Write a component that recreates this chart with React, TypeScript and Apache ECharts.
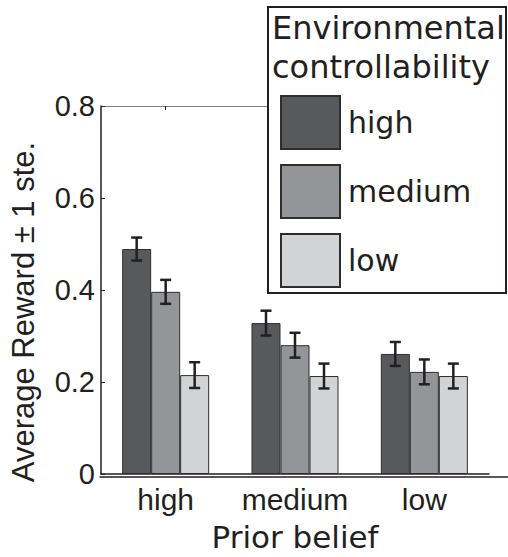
import React, { useEffect, useRef } from "react";
import * as echarts from "echarts";

// Prior belief categories (x axis)
const categories = ["high", "medium", "low"];
// Environmental controllability levels (legend)
const controlLevels = ["high", "medium", "low"];
// Mean reward per controllability level, one value per prior-belief category
const highCtrlMean = [0.489, 0.328, 0.261];
const mediumCtrlMean = [0.396, 0.28, 0.222];
const lowCtrlMean = [0.215, 0.213, 0.213];
// Standard errors
const highCtrlErr = [0.025, 0.027, 0.026];
const mediumCtrlErr = [0.026, 0.027, 0.027];
const lowCtrlErr = [0.028, 0.027, 0.027];
// Y axis
const yMin = 0;
const yMax = 0.8;
const yStep = 0.2;

const legendTitle = "Environmental\ncontrollability";

const COLORS = ["#58595b", "#939598", "#d1d3d4"];
const INK = "#231f20";
const BAR_W = 29;

export default function App() {
  const ref = useRef<HTMLDivElement>(null);

  useEffect(() => {
    if (!ref.current) return;
    const chart = echarts.init(ref.current, undefined, { renderer: "svg" });

    const means = [highCtrlMean, mediumCtrlMean, lowCtrlMean];
    const errs = [highCtrlErr, mediumCtrlErr, lowCtrlErr];

    const barSeries = controlLevels.map((name, s) => ({
      name,
      type: "bar",
      xAxisIndex: 0,
      yAxisIndex: 0,
      barWidth: BAR_W,
      barGap: "0%",
      data: means[s],
      itemStyle: { color: COLORS[s], borderColor: "#2e2e2e", borderWidth: 1 },
      z: 2,
    }));

    const errSeries = controlLevels.map((name, s) => ({
      name: name + " error",
      type: "custom",
      xAxisIndex: 0,
      yAxisIndex: 0,
      z: 5,
      data: categories.map((c, i) => [i, means[s][i], errs[s][i]]),
      encode: { x: 0, y: 1 },
      renderItem: (params: any, api: any) => {
        const xi = api.value(0);
        const m = api.value(1);
        const e = api.value(2);
        const top = api.coord([xi, m + e]);
        const bot = api.coord([xi, m - e]);
        const x = top[0] + (s - 1) * BAR_W;
        const hw = 5.5;
        const style = { stroke: INK, lineWidth: 2.5 };
        return {
          type: "group",
          children: [
            { type: "line", shape: { x1: x, y1: top[1], x2: x, y2: bot[1] }, style },
            { type: "line", shape: { x1: x - hw, y1: top[1], x2: x + hw, y2: top[1] }, style },
            { type: "line", shape: { x1: x - hw, y1: bot[1], x2: x + hw, y2: bot[1] }, style },
          ],
        };
      },
    }));

    chart.setOption({
      animation: false,
      backgroundColor: "#ffffff",
      grid: [
        { left: 100, width: 389, top: 106, bottom: 80 },
        { left: 100, right: 0, top: 106, bottom: 80 },
      ],
      xAxis: [
        {
          type: "category",
          gridIndex: 0,
          data: categories,
          position: "bottom",
          axisLine: { lineStyle: { color: INK, width: 1.5 } },
          axisTick: { show: false },
          axisLabel: {
            interval: 0,
            fontFamily: "Liberation Sans",
            fontSize: 30,
            color: INK,
            margin: 10,
          },
          name: "Prior belief",
          nameLocation: "middle",
          nameGap: 47,
          nameTextStyle: { fontFamily: "DejaVu Sans", fontSize: 31, color: INK },
        },
        {
          type: "category",
          gridIndex: 0,
          data: categories,
          position: "top",
          axisLine: { lineStyle: { color: "#808080", width: 1 } },
          axisTick: { show: true, inside: true, length: 4, alignWithLabel: true, lineStyle: { color: INK } },
          axisLabel: { show: false },
        },
        {
          type: "value",
          gridIndex: 1,
          min: 0,
          max: 1,
          position: "bottom",
          axisLine: { show: true, lineStyle: { color: INK, width: 1.5 } },
          axisTick: { show: false },
          axisLabel: { show: false },
          splitLine: { show: false },
        },
      ],
      yAxis: [
        {
          type: "value",
          gridIndex: 0,
          min: yMin,
          max: yMax,
          interval: yStep,
          axisLine: { show: true, lineStyle: { color: INK, width: 1.5 } },
          axisTick: { show: true, inside: true, length: 4, lineStyle: { color: INK } },
          splitLine: { show: false },
          axisLabel: {
            fontFamily: "Liberation Sans",
            fontSize: 29,
            color: INK,
            margin: 6,
            formatter: (v: number) => (v === 0 ? "0" : v.toFixed(1)),
          },
          name: "Average Reward ± 1 ste.",
          nameLocation: "middle",
          nameGap: 62,
          nameTextStyle: {
            fontFamily: "Liberation Sans",
            fontSize: 31,
            color: INK,
            padding: [0, 44, 0, 0],
          },
        },
        {
          type: "value",
          gridIndex: 1,
          min: 0,
          max: 1,
          show: false,
        },
      ],
      legend: {
        data: controlLevels,
        orient: "vertical",
        left: 280,
        top: 95,
        padding: 0,
        itemWidth: 59,
        itemHeight: 53,
        itemGap: 14,
        icon: "rect",
        z: 20,
        textStyle: {
          fontFamily: "DejaVu Sans",
          fontSize: 30,
          color: INK,
          padding: [0, 0, 0, 3],
        },
      },
      graphic: [
        {
          type: "rect",
          z: 15,
          shape: { x: 268, y: 7, width: 238, height: 286 },
          style: { fill: "#ffffff", stroke: INK, lineWidth: 2 },
        },
        {
          type: "text",
          z: 16,
          x: 272,
          y: 8,
          style: {
            text: legendTitle,
            fontFamily: "DejaVu Sans",
            fontSize: 32,
            lineHeight: 39,
            fill: INK,
            textVerticalAlign: "top",
          },
        },
      ],
      series: [...barSeries, ...errSeries],
    });

    return () => chart.dispose();
  }, []);

  return (
    <div
      ref={ref}
      style={{ position: "absolute", left: 0, top: 0, width: 508, height: 557 }}
    />
  );
}
